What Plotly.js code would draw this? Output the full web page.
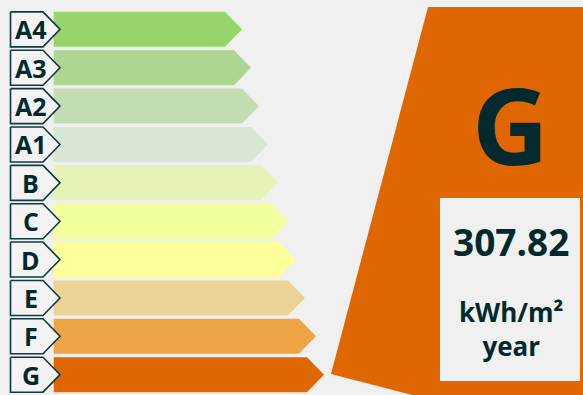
<!DOCTYPE html>
<html>
<head>
<meta charset="utf-8">
<script src="https://cdn.plot.ly/plotly-3.0.1.min.js"></script>
<style>
  html, body { margin: 0; padding: 0; background: #f0f0f0; }
  #chart { width: 583px; height: 395px; }
</style>
</head>
<body>
<div id="chart"></div>
<script>
// Energy classes, best to worst, and where each class arrow ends (x, px)
const classes = ['A4', 'A3', 'A2', 'A1', 'B', 'C', 'D', 'E', 'F', 'G'];
const arrowEnds = [242, 251, 259, 268, 278, 288, 296, 305, 316, 324];
const classColors = ['#97d46c', '#acd692', '#c3ddb2', '#d9e6d3', '#e7f3b6',
                     '#f3fe9c', '#fdff99', '#ebd395', '#eea546', '#e06700'];

// Rating of the building and its consumption
const rating = 'G';
const consumption = 307.82;
const unitLines = ['kWh/m²', 'year'];

const W = 583, H = 395;
const ink = '#02292e';
const font = 'Open Sans, Noto Sans, sans-serif';

const barLeft = 53.7;
const tip = 17;
const half = 0.456;          // half height of a row in row units
const badgeLeft = 10.5, badgeBody = 43, badgeTip = 60;

const traces = [];
// class arrows
classes.forEach((c, i) => {
  const end = arrowEnds[i];
  traces.push({
    type: 'scatter', mode: 'lines', fill: 'toself',
    x: [barLeft, end - tip, end, end - tip, barLeft, barLeft],
    y: [i - half, i - half, i, i + half, i + half, i - half],
    fillcolor: classColors[i], line: { width: 0 },
    hoverinfo: 'skip', showlegend: false
  });
});
// class badges
classes.forEach((c, i) => {
  traces.push({
    type: 'scatter', mode: 'lines', fill: 'toself',
    x: [badgeLeft, badgeBody, badgeTip, badgeBody, badgeLeft, badgeLeft],
    y: [i - half, i - half, i, i + half, i + half, i - half],
    fillcolor: '#f3f3f3', line: { width: 1.6, color: '#0f3b3e' },
    hoverinfo: 'skip', showlegend: false
  });
});

const annotations = classes.map((c, i) => ({
  x: 30.8, y: i, xref: 'x', yref: 'y', text: c, showarrow: false,
  xanchor: 'center', yanchor: 'middle',
  font: { family: font, size: 25, weight: 700, color: ink }
}));

// pixel -> paper helpers for the rating panel
const px = x => x / W;
const py = y => 1 - y / H;

annotations.push({
  x: px(510.5), y: py(124), xref: 'paper', yref: 'paper', text: rating,
  showarrow: false, xanchor: 'center', yanchor: 'middle',
  font: { family: font, size: 106, weight: 700, color: ink }
});
annotations.push({
  x: px(510.5), y: py(241), xref: 'paper', yref: 'paper',
  text: consumption.toFixed(2), showarrow: false, xanchor: 'center', yanchor: 'middle',
  font: { family: font, size: 37, weight: 700, color: ink }
});
annotations.push({
  x: px(510.5), y: py(329), xref: 'paper', yref: 'paper',
  text: unitLines.join('<br>'), showarrow: false, xanchor: 'center', yanchor: 'middle',
  font: { family: font, size: 26, weight: 700, color: ink }
});

const poly = pts => 'M' + pts.map(p => px(p[0]) + ',' + py(p[1])).join(' L') + ' Z';

const shapes = [
  { type: 'path', xref: 'paper', yref: 'paper', layer: 'below',
    path: poly([[428, 7], [W + 2, 7], [W + 2, H + 2], [420, H + 2], [331, 374]]),
    fillcolor: classColors[classes.indexOf(rating)], line: { width: 0 } },
  { type: 'rect', xref: 'paper', yref: 'paper', layer: 'below',
    x0: px(440), x1: px(580), y0: py(198), y1: py(381),
    fillcolor: '#f0f0f0', line: { width: 0 } }
];

const rowTop = 29.35, pitch = 38.37;
const layout = {
  width: W, height: H,
  margin: { l: 0, r: 0, t: 0, b: 0 },
  paper_bgcolor: '#f0f0f0', plot_bgcolor: '#f0f0f0',
  showlegend: false, hovermode: false,
  xaxis: { range: [0, W], visible: false, fixedrange: true },
  yaxis: { range: [(H - rowTop) / pitch, -rowTop / pitch], visible: false, fixedrange: true },
  annotations, shapes
};

Plotly.newPlot('chart', traces, layout, { staticPlot: true, displayModeBar: false });
</script>
</body>
</html>
